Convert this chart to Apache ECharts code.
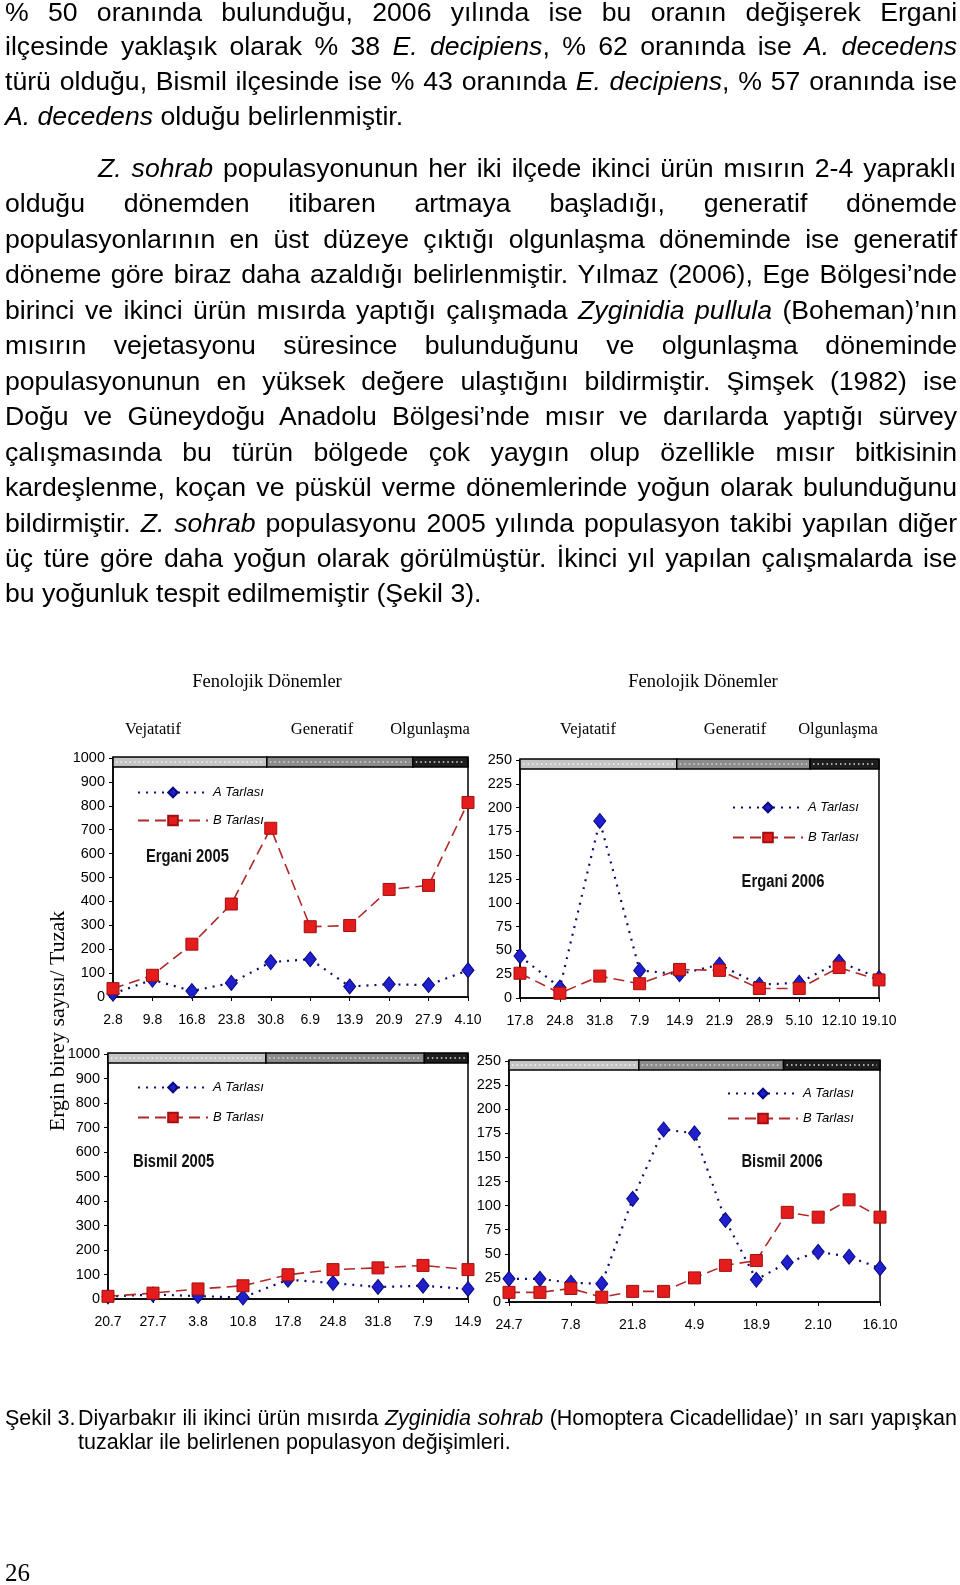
<!DOCTYPE html>
<html><head><meta charset="utf-8">
<script src="https://cdn.jsdelivr.net/npm/echarts@6/dist/echarts.min.js"></script>
<style>
html,body{margin:0;padding:0;background:#fff;}
body{width:960px;height:1585px;position:relative;overflow:hidden;font-family:"Liberation Sans",Arial,sans-serif;color:#000;}
#chart{position:absolute;left:0;top:0;width:960px;height:1585px;z-index:0;}
.ln{position:absolute;left:5px;width:894px;font-size:25px;line-height:30px;height:30px;transform-origin:0 50%;transform:scaleX(1.065);z-index:1;white-space:nowrap;}
.j{white-space:normal;text-align:justify;text-align-last:justify;}
.cap{position:absolute;font-size:21.5px;line-height:24px;height:24px;z-index:1;white-space:nowrap;}
.pg{position:absolute;left:5px;top:1558px;font-family:"Liberation Serif","Times New Roman",serif;font-size:25px;line-height:30px;}
</style></head>
<body>
<div class="ln j" style="top:-3px">% 50 oranında bulunduğu, 2006 yılında ise bu oranın değişerek Ergani</div>
<div class="ln j" style="top:31px">ilçesinde yaklaşık olarak % 38 <i>E. decipiens</i>, % 62 oranında ise <i>A. decedens</i></div>
<div class="ln j" style="top:66px">türü olduğu, Bismil ilçesinde ise % 43 oranında <i>E. decipiens</i>, % 57 oranında ise</div>
<div class="ln" style="top:101px"><i>A. decedens</i> olduğu belirlenmiştir.</div>

<div class="ln j" style="top:153px;left:98px;width:806px"><i>Z. sohrab</i> populasyonunun her iki ilçede ikinci ürün mısırın 2-4 yapraklı</div>
<div class="ln j" style="top:188px">olduğu dönemden itibaren artmaya başladığı, generatif dönemde</div>
<div class="ln j" style="top:224px">populasyonlarının en üst düzeye çıktığı olgunlaşma döneminde ise generatif</div>
<div class="ln j" style="top:259px">döneme göre biraz daha azaldığı belirlenmiştir. Yılmaz (2006), Ege Bölgesi’nde</div>
<div class="ln j" style="top:295px">birinci ve ikinci ürün mısırda yaptığı çalışmada <i>Zyginidia pullula</i> (Boheman)’nın</div>
<div class="ln j" style="top:330px">mısırın vejetasyonu süresince bulunduğunu ve olgunlaşma döneminde</div>
<div class="ln j" style="top:366px">populasyonunun en yüksek değere ulaştığını bildirmiştir. Şimşek (1982) ise</div>
<div class="ln j" style="top:401px">Doğu ve Güneydoğu Anadolu Bölgesi’nde mısır ve darılarda yaptığı sürvey</div>
<div class="ln j" style="top:437px">çalışmasında bu türün bölgede çok yaygın olup özellikle mısır bitkisinin</div>
<div class="ln j" style="top:472px">kardeşlenme, koçan ve püskül verme dönemlerinde yoğun olarak bulunduğunu</div>
<div class="ln j" style="top:508px">bildirmiştir. <i>Z. sohrab</i> populasyonu 2005 yılında populasyon takibi yapılan diğer</div>
<div class="ln j" style="top:543px">üç türe göre daha yoğun olarak görülmüştür. İkinci yıl yapılan çalışmalarda ise</div>
<div class="ln" style="top:578px">bu yoğunluk tespit edilmemiştir (Şekil 3).</div>

<div id="chart"></div>

<div class="cap" style="left:5px;top:1406px">Şekil 3.</div>
<div class="cap" style="left:78px;top:1406px;width:879px;white-space:normal;text-align:justify;text-align-last:justify;">Diyarbakır ili ikinci ürün mısırda <i>Zyginidia sohrab</i> (Homoptera Cicadellidae)’ ın sarı yapışkan</div>
<div class="cap" style="left:78px;top:1430px">tuzaklar ile belirlenen populasyon değişimleri.</div>
<div class="pg">26</div>

<script>
// ---- data ----
const catsErgani2005 = ['2.8','9.8','16.8','23.8','30.8','6.9','13.9','20.9','27.9','4.10'];
const aErgani2005 = [14, 72, 25, 59, 146, 158, 44, 53, 50, 112];
const bErgani2005 = [35, 91, 221, 389, 706, 294, 299, 450, 467, 814];

const catsErgani2006 = ['17.8','24.8','31.8','7.9','14.9','21.9','28.9','5.10','12.10','19.10'];
const aErgani2006 = [44, 11, 186, 29, 25, 35, 14, 16, 38, 21];
const bErgani2006 = [26, 5, 23, 15, 30, 29, 10, 10, 32, 19];

const catsBismil2005 = ['20.7','27.7','3.8','10.8','17.8','24.8','31.8','7.9','14.9'];
const aBismil2005 = [10, 18, 12, 6, 79, 65, 49, 54, 41];
const bBismil2005 = [11, 24, 41, 54, 99, 120, 127, 137, 120];

const catsBismil2006 = ['24.7','31.7','7.8','14.8','21.8','28.8','4.9','11.9','18.9','25.9','2.10','9.10','16.10'];
const aBismil2006 = [24, 24, 20, 19, 107, 179, 175, 85, 23, 41, 52, 47, 35];
const bBismil2006 = [10, 10, 14, 5, 11, 11, 25, 38, 43, 93, 88, 106, 88];

// phase boundaries (in category-index units): Vejatatif | Generatif | Olgunlaşma
const phasesErgani2005 = [3.9, 7.6];
const phasesErgani2006 = [3.93, 7.27];
const phasesBismil2005 = [3.51, 7.03];
const phasesBismil2006 = [4.2, 8.88];

const phaseNames = ['Vejatatif', 'Generatif', 'Olgunlaşma'];
const seriesNames = ['A Tarlası', 'B Tarlası'];
const yTitle = 'Ergin birey sayısı/ Tuzak';
const topTitle = 'Fenolojik Dönemler';

// ---- layout ----
const SANS = '"Liberation Sans",Arial,sans-serif';
const SERIF = '"Liberation Serif","Times New Roman",serif';

const panels = [
  {cats: catsErgani2005, a: aErgani2005, b: bErgani2005, max: 1000, interval: 100, phases: phasesErgani2005,
   grid: {left: 113, top: 758, width: 355, height: 239}, label: 'Ergani 2005', labelPos: [146, 857, 'left'],
   legend: {left: 132, top: 781, itemGap: 15}, labelInterval: 0,
   header: {title: 267, phases: [153, 322, 430]}},
  {cats: catsErgani2006, a: aErgani2006, b: bErgani2006, max: 250, interval: 25, phases: phasesErgani2006,
   grid: {left: 520, top: 760, width: 359, height: 238}, label: 'Ergani 2006', labelPos: [783, 882, 'center'],
   legend: {left: 727, top: 796, itemGap: 17}, labelInterval: 0,
   header: {title: 703, phases: [588, 735, 838]}},
  {cats: catsBismil2005, a: aBismil2005, b: bBismil2005, max: 1000, interval: 100, phases: phasesBismil2005,
   grid: {left: 108, top: 1054, width: 360, height: 245}, label: 'Bismil 2005', labelPos: [133, 1162, 'left'],
   legend: {left: 132, top: 1076, itemGap: 17}, labelInterval: 0},
  {cats: catsBismil2006, a: aBismil2006, b: bBismil2006, max: 250, interval: 25, phases: phasesBismil2006,
   grid: {left: 509, top: 1061, width: 371, height: 241}, label: 'Bismil 2006', labelPos: [782, 1162, 'center'],
   legend: {left: 722, top: 1082, itemGap: 12}, labelInterval: 1}
];

const chart = echarts.init(document.getElementById('chart'), null, {renderer: 'canvas'});

const option = {
  animation: false,
  backgroundColor: 'transparent',
  grid: [], xAxis: [], yAxis: [], series: [], legend: []
};

panels.forEach((p, i) => {
  option.grid.push(Object.assign({show: true, borderColor: '#000', borderWidth: 1.5, backgroundColor: '#fff'}, p.grid));
  option.xAxis.push({
    type: 'category', gridIndex: i, data: p.cats, boundaryGap: false,
    axisLine: {lineStyle: {color: '#000', width: 1.5}},
    axisTick: {show: true, length: 4, interval: p.labelInterval, lineStyle: {color: '#000'}},
    axisLabel: {interval: p.labelInterval, color: '#000', fontFamily: SANS, fontSize: 14, margin: 16},
    splitLine: {show: false}
  });
  option.yAxis.push({
    type: 'value', gridIndex: i, min: 0, max: p.max, interval: p.interval,
    axisLine: {show: true, lineStyle: {color: '#000', width: 1.5}},
    axisTick: {show: true, length: 4, lineStyle: {color: '#000'}},
    axisLabel: {color: '#000', fontFamily: SANS, fontSize: 14.5, margin: 8, formatter: v => String(v)},
    splitLine: {show: false}
  });
  option.series.push({
    type: 'line', name: seriesNames[0], xAxisIndex: i, yAxisIndex: i, data: p.a,
    symbol: 'diamond', symbolSize: [12, 15], z: 3,
    itemStyle: {color: '#1f1fd0', borderColor: '#0a0a7a', borderWidth: 1},
    lineStyle: {color: '#0c0c70', width: 2.2, type: [2, 6]}
  });
  option.series.push({
    type: 'line', name: seriesNames[1], xAxisIndex: i, yAxisIndex: i, data: p.b,
    symbol: 'rect', symbolSize: 12, z: 4,
    itemStyle: {color: '#e41c1c', borderColor: '#a01010', borderWidth: 1},
    lineStyle: {color: '#b02828', width: 1.6, type: [11, 6]}
  });
  option.legend.push({
    data: seriesNames, orient: 'vertical', left: p.legend.left, top: p.legend.top,
    itemWidth: 70, itemHeight: 12, itemGap: p.legend.itemGap, selectedMode: false,
    textStyle: {fontFamily: SANS, fontStyle: 'italic', fontSize: 13, color: '#000'}
  });
});

chart.setOption(option);

// ---- decorations: phase bars, labels ----
const graphics = [];
panels.forEach((p, i) => {
  const g = p.grid;
  const x0 = chart.convertToPixel({xAxisIndex: i}, 0);
  const x1 = chart.convertToPixel({xAxisIndex: i}, p.cats.length - 1);
  const step = (x1 - x0) / (p.cats.length - 1);
  const edges = [g.left, x0 + p.phases[0] * step, x0 + p.phases[1] * step, g.left + g.width];
  const fills = ['#c4c4c4', '#8c8c8c', '#1e1e1e'];
  const dots = ['#f2f2f2', '#d8d8d8', '#e0e0e0'];
  const yTop = chart.convertToPixel({yAxisIndex: i}, p.max) - 1;
  for (let k = 0; k < 3; k++) {
    graphics.push({type: 'rect', z: 100, shape: {x: edges[k], y: yTop, width: edges[k + 1] - edges[k], height: 10},
      style: {fill: fills[k], stroke: '#000', lineWidth: 1.5}});
    graphics.push({type: 'line', z: 101, shape: {x1: edges[k] + 3, y1: yTop + 5, x2: edges[k + 1] - 3, y2: yTop + 5},
      style: {stroke: dots[k], lineWidth: 1.5, lineDash: [1.5, 3]}});
  }
  graphics.push({type: 'text', z: 102, x: p.labelPos[0], y: p.labelPos[1], scaleX: 0.82,
    style: {text: p.label, fontFamily: SANS, fontWeight: 'bold', fontSize: 18, fill: '#111',
      align: p.labelPos[2], verticalAlign: 'middle'}});
  if (p.header) {
    graphics.push({type: 'text', x: p.header.title, y: 682,
      style: {text: topTitle, fontFamily: SERIF, fontSize: 18.5, fill: '#000', align: 'center', verticalAlign: 'middle'}});
    p.header.phases.forEach((x, k) => {
      graphics.push({type: 'text', x: x, y: 730,
        style: {text: phaseNames[k], fontFamily: SERIF, fontSize: 16.5, fill: '#000', align: 'center', verticalAlign: 'middle'}});
    });
  }
});
graphics.push({type: 'text', x: 58, y: 1021, rotation: Math.PI / 2,
  style: {text: yTitle, fontFamily: SERIF, fontSize: 22, fill: '#000', align: 'center', verticalAlign: 'middle'}});

chart.setOption({graphic: graphics});
</script>
</body></html>
